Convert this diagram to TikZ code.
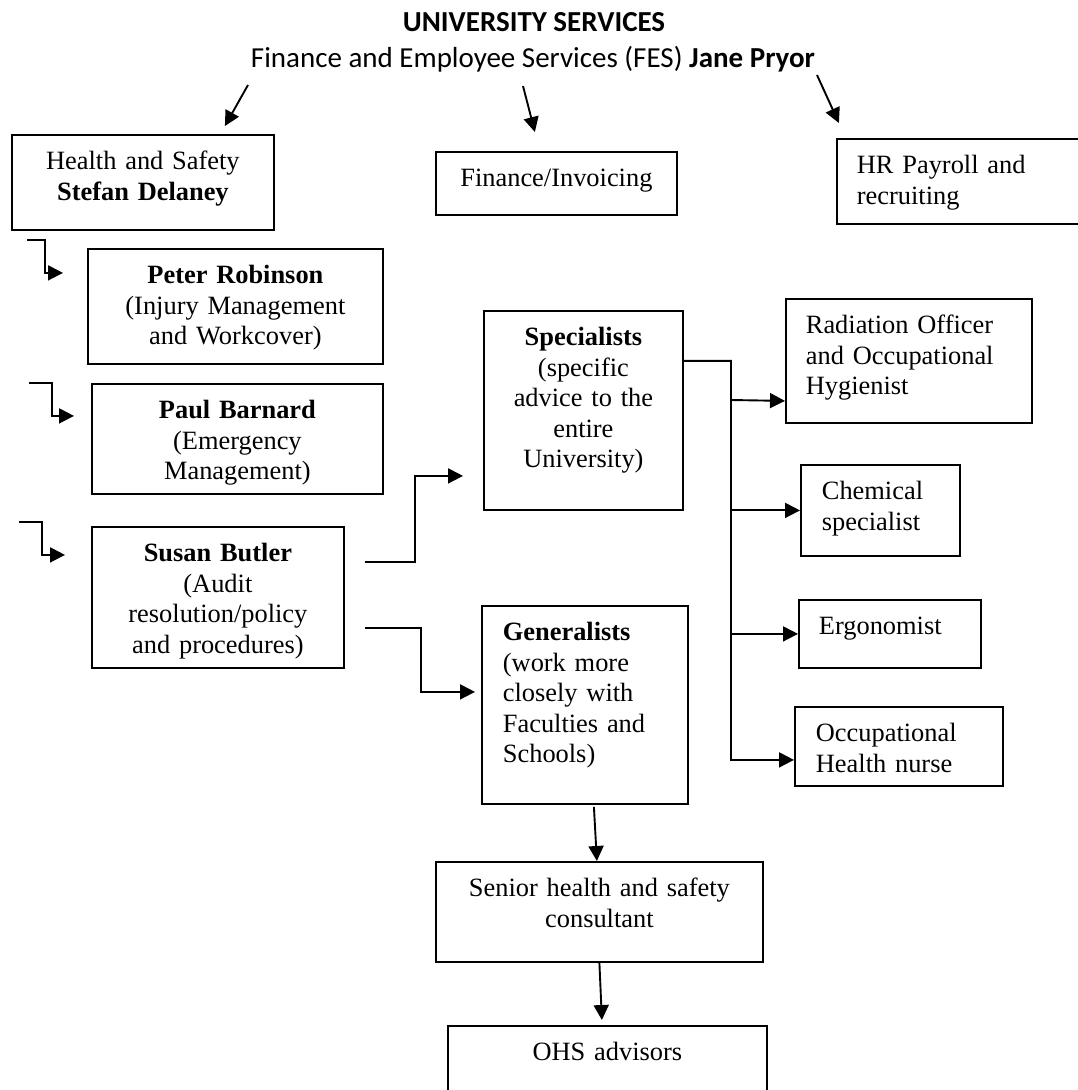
\documentclass[tikz,border=0pt]{standalone}
\usepackage{fontspec}
\setmainfont{Liberation Serif}
\newfontfamily\calibri{Carlito}
\usetikzlibrary{arrows.meta,calc}

\begin{document}
\begin{tikzpicture}[x=1pt,y=-1pt]
\tikzstyle{unit}=[draw, line width=1.8pt, anchor=north west, inner xsep=0pt, inner ysep=0pt, text height=35pt, align=center, font=\fontsize{26.4}{30.5}\selectfont]
\tikzstyle{unitleft}=[unit, align=left, inner xsep=20pt]
\tikzstyle{heading}=[inner sep=0pt, anchor=base, font=\calibri\fontsize{29}{34}\selectfont]
\tikzstyle{arr}=[line width=1.9pt, -{Triangle[length=15pt,width=15pt]}]
\useasboundingbox (0,0) rectangle (1077,1090);

\node[heading] (us) at (534,31) {\textbf{UNIVERSITY SERVICES}};
\node[heading] (fes) at (533,67) {Finance and Employee Services (FES) \textbf{Jane Pryor}};

\node[unit, text width=262pt, text depth=60pt] (hs) at (11,134) {Health and Safety\\\textbf{Stefan Delaney}};
\node[unit, text width=241pt, text depth=28pt] (fi) at (435,151) {Finance/Invoicing};
\node[unitleft, text width=204pt, text depth=50pt] (hr) at (836,138) {HR Payroll and\\recruiting};

\node[unit, text width=295pt, text depth=80pt] (pr) at (87,248) {\textbf{Peter Robinson}\\(Injury Management\\and Workcover)};
\node[unit, text width=291pt, text depth=75pt] (pb) at (91,383) {\textbf{Paul Barnard}\\(Emergency\\Management)};
\node[unit, text width=252pt, text depth=106pt] (sb) at (91,526) {\textbf{Susan Butler}\\(Audit\\resolution/policy\\and procedures)};

\node[unit, text width=199pt, text depth=164pt] (sp) at (483,310) {\textbf{Specialists}\\(specific\\advice to the\\entire\\University)};
\node[unitleft, inner xsep=21pt, text width=164pt, text depth=163pt] (gen) at (481,605) {\textbf{Generalists}\\(work more\\closely with\\Faculties and\\Schools)};

\node[unitleft, text width=206pt, text depth=89pt] (ro) at (785,298) {Radiation Officer\\and Occupational\\Hygienist};
\node[unitleft, inner xsep=21pt, text width=117pt, text depth=56pt] (ch) at (800,464) {Chemical\\specialist};
\node[unitleft, text width=142pt, text depth=33pt] (er) at (798,599) {Ergonomist};
\node[unitleft, inner xsep=21pt, text width=166pt, text depth=44pt] (oh) at (794,706) {Occupational\\Health nurse};

\node[unit, text width=327pt, text depth=65pt] (sen) at (435,861) {Senior health and safety\\consultant};
\node[unit, text width=319pt, text depth=100pt] (ohs) at (447,1025) {OHS advisors};

\coordinate (trk) at (731,400);

\draw[arr] ($(fes.base)+(-285,18)$) -- ($(hs.north)+(82,-8)$);
\draw[arr] ($(fes.base)+(-10,19)$) -- ($(fi.north)+(-21.5,-19)$);
\draw[arr] ($(fes.base)+(284,8)$) -- ($(hr.north)+(-120,-15)$);

\draw[arr] ($(hs.south west)+(16,9)$) -- ++(18,0) |- ($(pr.west)+(-24,-33.5)$);
\draw[arr] ($(pb.north west)+(-62,0)$) -- ++(23,0) |- ($(pb.west)+(-17,-23)$);
\draw[arr] ($(sb.north west)+(-72,-4)$) -- ++(23,0) |- ($(sb.west)+(-26,-42.5)$);

\draw[arr] ($(sb.east)+(20,-35.5)$) -- ++(50,0) |- ($(sp.west)+(-20,65.5)$);
\draw[arr] ($(sb.east)+(20,30.5)$) -- ++(56,0) |- ($(gen.west)+(-6,-13)$);

\draw[arr] ($(sp.east)+(0,-49.5)$) -| (trk) -- ($(ro.west)+(0,40)$);
\draw[arr] (trk) |- ($(oh.west)+(0,13.5)$);
\draw[arr] (trk |- ch.west) -- (ch.west);
\draw[arr] (trk |- er.west) -- (er.west);

\draw[arr] ($(gen.south)+(9,2)$) -- ($(sen.north)+(-2.5,0)$);
\draw[arr] (sen.south) -- ($(ohs.north)+(-5.5,-5)$);
\end{tikzpicture}
\end{document}
